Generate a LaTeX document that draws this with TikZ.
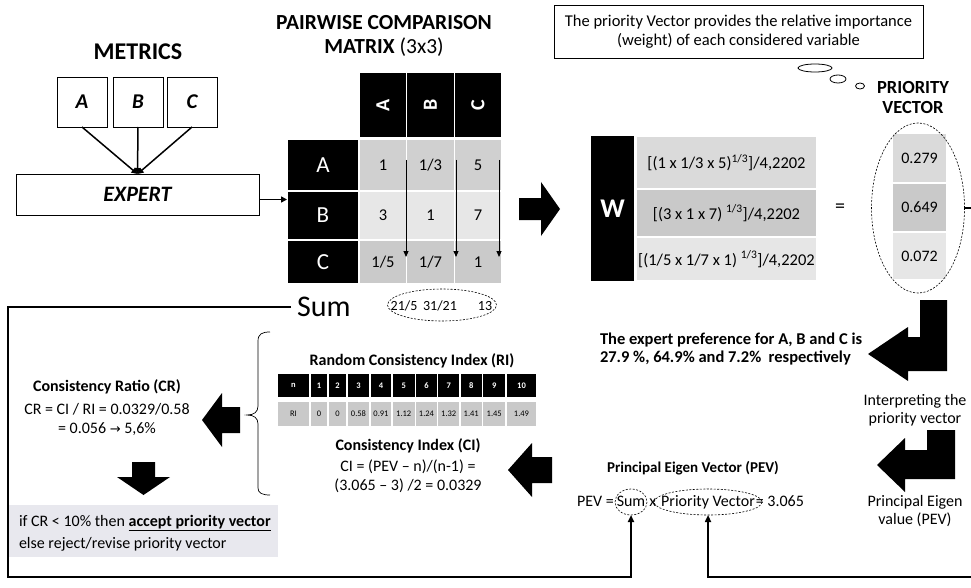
\documentclass[tikz,border=0pt]{standalone}
\usepackage{fontspec}
\setmainfont{Carlito}
\newfontfamily\symfont{DejaVu Sans}
\usetikzlibrary{arrows.meta,shapes.geometric,calc}
\newcommand{\fsz}[2]{\fontsize{#1}{#2}\selectfont}
\definecolor{cellA}{HTML}{D0D0D0}
\definecolor{cellB}{HTML}{E7E7E7}
\definecolor{cellC}{HTML}{CACACA}
\definecolor{wA}{HTML}{DADADA}
\definecolor{wB}{HTML}{C9C9C9}
\definecolor{wC}{HTML}{E6E6E6}
\definecolor{riGray}{HTML}{C9C9C9}
\definecolor{boxbg}{HTML}{E8E8EE}
\begin{document}
\begin{tikzpicture}[x=1pt,y=-1pt,
  every node/.style={inner sep=0pt,outer sep=0pt},
  mbox/.style={draw,line width=0.8pt,minimum width=50,minimum height=50,font=\bfseries\itshape\fsz{21}{24}},
  mline/.style={line width=1.5pt,-{Triangle[length=6pt,width=6pt]}},
  blk/.style={fill=black,draw=white,line width=1.2pt,text=white},
  cellst/.style={draw=white,line width=1.2pt,font=\fsz{16.5}{19}},
  vline/.style={line width=0.9pt,-{Triangle[length=6pt,width=5pt]}},
  conn/.style={line width=1.8pt,-{Triangle[length=7pt,width=6pt]}},
  dsh/.style={draw,line width=0.6pt,dash pattern=on 2pt off 1.5pt},
  txt/.style={font=\fsz{16}{18}},
  chain/.style={font=\fsz{16}{18},text height=11pt,text depth=3pt,anchor=west},
  rih/.style={fill=black,draw=white,line width=1.5pt,text=white,font=\bfseries\fsz{8.5}{10},minimum height=25},
  riv/.style={fill=riGray,draw=white,line width=1.5pt,font=\fsz{8.5}{10},minimum height=26},
]
\useasboundingbox (0,0) rectangle (971,588);

% ---------- metrics and expert ----------
\node[font=\bfseries\fsz{24}{28}] (mtitle) at (138,52) {METRICS};
\node[mbox] (ma) at (82,102) {A};
\node[mbox] (mb) at (138,102) {B};
\node[mbox] (mc) at (192,102) {C};
\node[draw,line width=0.8pt,minimum width=243,minimum height=41,font=\bfseries\itshape\fsz{22}{26}] (expert) at (137.5,194.5) {EXPERT};
\draw[mline] (ma.south) -- (expert.north);
\draw[mline] (mb.south) -- (expert.north);
\draw[mline] (mc.south) -- (expert.north);

% ---------- pairwise comparison matrix ----------
\node[font=\fsz{21.5}{24},align=center] (ptitle) at (384,36) {\textbf{PAIRWISE COMPARISON}\\\textbf{MATRIX} (3x3)};
\node[blk,rotate=90,minimum width=66,minimum height=47.5,font=\bfseries\fsz{20}{22}] (ha) at (383,105) {A};
\node[blk,rotate=90,minimum width=66,minimum height=47.5,font=\bfseries\fsz{20}{22}] (hb) at (430.5,105) {B};
\node[blk,rotate=90,minimum width=66,minimum height=47.5,font=\bfseries\fsz{20}{22}] (hc) at (478,105) {C};
\node[blk,minimum width=72,minimum height=52,font=\fsz{23}{26}] (ra) at (323,165) {A};
\node[blk,minimum width=72,minimum height=49,font=\fsz{23}{26}] (rb) at (323,215.5) {B};
\node[blk,minimum width=72,minimum height=44,font=\fsz{23}{26}] (rc) at (323,262) {C};
\node[cellst,fill=cellA,minimum width=47.5,minimum height=52] (aa) at (383,165) {1};
\node[cellst,fill=cellA,minimum width=47.5,minimum height=52] (ab) at (430.5,165) {1/3};
\node[cellst,fill=cellA,minimum width=47.5,minimum height=52] (ac) at (478,165) {5};
\node[cellst,fill=cellB,minimum width=47.5,minimum height=49] (ba) at (383,215.5) {3};
\node[cellst,fill=cellB,minimum width=47.5,minimum height=49] (bb) at (430.5,215.5) {1};
\node[cellst,fill=cellB,minimum width=47.5,minimum height=49] (bc) at (478,215.5) {7};
\node[cellst,fill=cellC,minimum width=47.5,minimum height=44] (ca) at (383,262) {1/5};
\node[cellst,fill=cellC,minimum width=47.5,minimum height=44] (cb) at (430.5,262) {1/7};
\node[cellst,fill=cellC,minimum width=47.5,minimum height=44] (cc) at (478,262) {1};
% column sums run down the matrix
\coordinate (v1s) at (406,160); \coordinate (v1e) at (406,257);
\coordinate (v2s) at (456,160); \coordinate (v2e) at (456,257);
\coordinate (v3s) at (499,160); \coordinate (v3e) at (499,257);
\draw[vline] (v1s) -- (v1e);
\draw[vline] (v2s) -- (v2e);
\draw[vline] (v3s) -- (v3e);
\coordinate (ein) at ([yshift=-5pt]expert.east);
\draw[mline] (ein) -- (ein -| rb.west);

% sum row
\node[font=\fsz{30}{32},anchor=west] (sumlbl) at (297,307) {Sum};
\node[ellipse,dsh,minimum width=109,minimum height=32] (sumell) at (442,305) {};
\node[font=\fsz{14}{16}] (s1) at (404,306) {21/5};
\node[font=\fsz{14}{16}] (s2) at (440,306) {31/21};
\node[font=\fsz{14}{16}] (s3) at (485,306) {13};

% big arrow to the weights
\fill (519,198) -- (541,198) -- (541,182) -- (560,209) -- (541,236) -- (541,220) -- (519,220) -- cycle;

% ---------- weights ----------
\node[fill=black,minimum width=43,minimum height=145,text=white,font=\bfseries\fsz{27}{30}] (wbox) at (612.5,208.5) {W};
\node[cellst,fill=wA,minimum width=181,minimum height=53] (w1) at (726.5,162.5) {[(1 x 1/3 x 5)\textsuperscript{1/3}]/4,2202};
\node[cellst,fill=wB,minimum width=181,minimum height=48] (w2) at (726.5,213) {[(3 x 1 x 7) \textsuperscript{1/3}]/4,2202};
\node[cellst,fill=wC,minimum width=181,minimum height=44] (w3) at (726.5,259) {[(1/5 x 1/7 x 1) \textsuperscript{1/3}]/4,2202};
\node[font=\fsz{20}{22}] (eq) at (840,208) {=};

% ---------- priority vector ----------
\node[draw,line width=0.8pt,minimum width=369,minimum height=53,align=center,font=\fsz{16.5}{19}] (note) at (738.5,31.5)
  {The priority Vector provides the relative importance\\(weight) of each considered variable};
\node[ellipse,draw,line width=0.8pt,minimum width=34,minimum height=8] (bub1) at (815,68) {};
\node[ellipse,draw,line width=0.8pt,minimum width=16,minimum height=8] (bub2) at (838,79) {};
\node[ellipse,draw,line width=0.8pt,minimum width=9,minimum height=6] (bub3) at (860,86) {};
\node[font=\bfseries\fsz{18.5}{20},align=center] (pvtitle) at (913,97) {PRIORITY\\VECTOR};
\node[cellst,fill=wA,minimum width=55,minimum height=50,font=\fsz{16}{18}] (p1) at (919.5,158) {0.279};
\node[cellst,fill=wB,minimum width=55,minimum height=49,font=\fsz{16}{18}] (p2) at (919.5,207.5) {0.649};
\node[cellst,fill=wC,minimum width=55,minimum height=48,font=\fsz{16}{18}] (p3) at (919.5,256) {0.072};
\node[ellipse,dsh,minimum width=93,minimum height=170] (pvell) at (918,208) {};

% ---------- interpretation ----------
\fill (920,300) -- (947,300) -- (947,371) -- (908,371) -- (908,381) -- (868,354) -- (908,327) -- (908,337) -- (920,337) -- cycle;
\node[font=\bfseries\fsz{16.5}{18},align=left,anchor=west] (pref) at (600,349)
  {The expert preference for A, B and C is\\27.9 \%, 64.9\% and 7.2\%\ \ respectively};
\node[txt,align=center] (interp) at (915,410) {Interpreting the\\priority vector};
\fill (927,430) -- (955,430) -- (955,479) -- (905,479) -- (905,492) -- (877,465) -- (905,438) -- (905,450) -- (927,450) -- cycle;
\node[txt,align=center] (pevlbl) at (915,511) {Principal Eigen\\value (PEV)};

% ---------- principal eigen vector ----------
\node[font=\bfseries\fsz{15}{17}] (pevtitle) at (693,468) {Principal Eigen Vector (PEV)};
\node[chain] (pevA) at (577,502) {PEV =};
\node[chain] (sumE) at ([xshift=3pt]pevA.east) {Sum};
\node[chain] (pevX) at ([xshift=4pt]sumE.east) {x};
\node[chain] (pvE) at ([xshift=5pt]pevX.east) {Priority Vector};
\node[chain] (pevR) at ([xshift=1pt]pvE.east) {= 3.065};
\draw[dsh] (sumE.center) ellipse [x radius=16, y radius=13];
\draw[dsh] (pvE.center) ellipse [x radius=54, y radius=13];
\coordinate (sumBot) at ([yshift=-13pt]sumE.center);
\coordinate (pvBot) at ([yshift=-13pt]pvE.center);

% ---------- consistency index ----------
\fill (552,457) -- (532,457) -- (532,443) -- (508,470) -- (532,497) -- (532,483) -- (552,483) -- cycle;
\node[font=\bfseries\fsz{16}{18}] (rititle) at (412,361) {Random Consistency Index (RI)};
\foreach \xa/\xb/\hd/\vl [count=\i] in {277/310/n/RI,310/328/1/0,328/347/2/0,347/370/3/0.58,370/392/4/0.91,392/415.5/5/1.12,415.5/437.5/6/1.24,437.5/460/7/1.32,460/482.5/8/1.41,482.5/506/9/1.45,506/537/10/1.49}{
  \node[rih,minimum width={\xb-\xa}] (rh\i) at ({(\xa+\xb)/2},385.5) {\hd};
  \node[riv,minimum width={\xb-\xa}] (rv\i) at ({(\xa+\xb)/2},414) {\vl};
}
\node[font=\bfseries\fsz{16}{18}] (cititle) at (408,446) {Consistency Index (CI)};
\node[align=center,font=\fsz{16}{19}] (cieq) at (408,476) {CI = (PEV – n)/(n-1) =\\(3.065 – 3) /2 = 0.0329};
\draw[line width=0.7pt] (270,332) .. controls (262,332) and (258,334) .. (258,341) -- (258,406)
  .. controls (258,412) and (254,415) .. (247,415) .. controls (254,415) and (258,418) .. (258,424)
  -- (258,488) .. controls (258,493) and (262,495) .. (270,495);

% ---------- consistency ratio ----------
\fill (240,407) -- (222,407) -- (222,393) -- (202,420) -- (222,447) -- (222,433) -- (240,433) -- cycle;
\node[font=\bfseries\fsz{16}{18}] (crtitle) at (107,387) {Consistency Ratio (CR)};
\node[align=center,font=\fsz{16}{19}] (creq) at (107,419) {CR = CI / RI = 0.0329/0.58\\= 0.056 {\symfont\fsz{13}{19}→} 5,6\%};
\fill (132,462) -- (155,462) -- (155,477) -- (170,477) -- (143.5,495) -- (117,477) -- (132,477) -- cycle;
\node[fill=boxbg,minimum width=269,minimum height=52] (decision) at (143.5,531) {};
\node[font=\fsz{16}{22},align=left,anchor=west] (dtext) at (19,533)
  {if CR < 10\% then \underline{\textbf{accept priority vector}}\\else reject/revise priority vector};

% ---------- feedback connectors ----------
\draw[conn] ([xshift=-6pt]sumlbl.west) -| (8,577) -| (sumBot);
\draw[conn] (pvell.east) -| (990,577) -| (pvBot);
\end{tikzpicture}
\end{document}
